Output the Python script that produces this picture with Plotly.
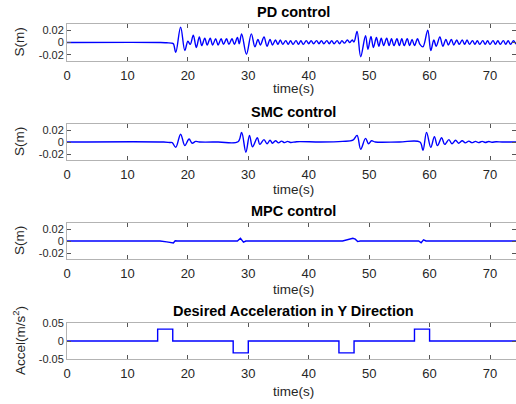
import plotly.graph_objects as go

# ---------------- data ----------------
# PD control: extremes of S(m) over time(s)
pd_t = [0, 15.5, 16.5, 17.3, 17.6, 18.0, 18.8, 19.5, 20.0, 20.4, 20.9, 21.4, 21.9, 22.3, 22.8, 23.2,
        23.7, 24.1, 24.6, 25.0, 25.5, 25.9, 26.4, 26.8, 27.3, 27.7, 28.2, 28.5, 28.9, 29.7, 30.5,
        31.1, 31.6, 32.0, 32.6, 33.1, 33.6, 34.0, 34.5, 34.9, 35.3, 35.7, 36.2, 36.6, 37.0, 37.4,
        37.9, 38.3, 38.7, 39.1, 39.6, 40.0, 40.4, 40.8, 41.3, 41.7, 42.1, 42.5, 43.0, 43.4, 43.8,
        44.2, 44.7, 45.1, 45.5, 45.9, 46.4, 46.8, 47.2, 47.5, 48.0, 48.6, 49.4, 49.8, 50.3, 50.7,
        51.2, 51.6, 52.0, 52.4, 52.9, 53.3, 53.7, 54.1, 54.6, 55.0, 55.4, 55.8, 56.3, 56.7, 57.1,
        57.5, 58.0, 58.4, 58.9, 59.7, 60.2, 60.7, 61.1, 61.7, 62.2, 62.7, 63.1, 63.6, 64.0, 64.5,
        64.9, 65.4, 65.8, 66.2, 66.6, 67.1, 67.5, 67.9, 68.3, 68.8, 69.2, 69.6, 70.0, 70.5, 70.9,
        71.3, 71.7, 72.2, 72.6, 73.0, 73.4, 73.9, 74.3, 75.0]
pd_s = [0, 0, -0.0005, -0.001, -0.002, -0.016, 0.025, -0.013, 0.002, -0.003, 0.012, -0.008, 0.009, -0.005, 0.007, -0.004,
        0.007, -0.004, 0.006, -0.004, 0.006, -0.003, 0.006, -0.003, 0.006, -0.003, 0.008, -0.002, 0.014, -0.019, 0.014,
        -0.007, 0.005, -0.004, 0.009, -0.006, 0.005, -0.004, 0.004, -0.003, 0.004, -0.003, 0.003, -0.003, 0.003, -0.003,
        0.003, -0.003, 0.003, -0.003, 0.003, -0.002, 0.003, -0.002, 0.003, -0.002, 0.003, -0.002, 0.003, -0.002, 0.003,
        -0.002, 0.003, -0.002, 0.003, -0.001, 0.004, 0.000, 0.004, 0.001, 0.018, -0.023, 0.011, -0.011, 0.010, -0.008,
        0.008, -0.006, 0.007, -0.005, 0.007, -0.005, 0.006, -0.005, 0.006, -0.005, 0.006, -0.005, 0.006, -0.005, 0.005,
        -0.005, 0.006, -0.003, -0.007, 0.020, -0.013, 0.004, -0.006, 0.009, -0.006, 0.005, -0.004, 0.005, -0.004, 0.004,
        -0.003, 0.004, -0.003, 0.004, -0.003, 0.003, -0.003, 0.003, -0.003, 0.003, -0.003, 0.003, -0.003, 0.003, -0.003,
        0.003, -0.003, 0.003, -0.003, 0.003, -0.003, 0.003, -0.002, 0.0]

# SMC control
smc_t = [0, 16.0, 17.0, 17.4, 18.0, 18.8, 19.5, 20.2, 20.7, 21.3, 21.9, 25.0, 28.3, 28.9, 29.6, 30.2, 30.7,
         31.5, 31.9, 32.6, 33.1, 33.6, 34.0, 34.5, 35.0, 35.5, 36.0, 36.5, 37.0, 38.0, 42.0, 45.6, 47.3,
         48.0, 48.6, 49.4, 49.9, 50.4, 51.0, 55.0, 58.4, 58.9, 59.5, 60.2, 60.8, 61.3, 62.0, 62.5, 63.2,
         63.7, 64.3, 64.8, 65.4, 65.9, 66.5, 67.0, 67.6, 68.1, 68.7, 69.2, 69.8, 70.3, 71.0, 72.0, 75.0]
smc_s = [0, 0, -0.0008, -0.001, -0.0088, 0.013, -0.006, 0.005, -0.002, 0.001, 0, 0, 0.0005, 0.016, -0.017, 0.011, -0.008,
         0.007, -0.004, 0.004, -0.003, 0.003, -0.002, 0.002, -0.0015, 0.0015, -0.001, 0.001, -0.0008, 0.0005, 0, 0.001, 0.003,
         0.011, -0.012, 0.006, -0.003, 0.002, 0, 0, 0, -0.014, 0.016, -0.009, 0.009, -0.006, 0.007, -0.004, 0.004,
         -0.003, 0.003, -0.002, 0.002, -0.0015, 0.0015, -0.001, 0.001, -0.001, 0.001, -0.0008, 0.0008, -0.0005, 0.0005, 0, 0]

# MPC control
mpc_t = [0, 15.4, 16.5, 17.6, 17.9, 18.3, 28.2, 28.7, 29.2, 29.6, 45.6, 47.3, 47.7, 48.1, 48.5, 58.2, 58.6, 59.0, 59.4, 75.0]
mpc_s = [0, 0, -0.0015, -0.0033, 0.0005, 0, 0, 0.0045, -0.002, 0, 0, 0.0045, 0.003, -0.001, 0, 0, -0.003, 0.002, 0, 0]

# Desired acceleration in Y direction (step signal)
acc_t = [0, 15.0, 17.5, 27.5, 30.0, 45.0, 47.5, 57.5, 60.0, 75.0]
acc_a = [0, 0.033, 0, -0.033, 0, -0.033, 0, 0.033, 0, 0]

titles = ["PD control", "SMC control", "MPC control", "Desired Acceleration in Y Direction"]
ylabels = ["S(m)", "S(m)", "S(m)", "Accel(m/s<sup>2</sup>)"]
xlabel = "time(s)"
x_ticks = [0, 10, 20, 30, 40, 50, 60, 70]
s_ticks = [-0.02, 0, 0.02]
s_ticktext = ["-0.02", "0", "0.02"]
a_ticks = [-0.05, 0, 0.05]
a_ticktext = ["-0.05", "0", "0.05"]

# ---------------- layout ----------------
W, H = 516, 404
boxes = [(24, 61), (124, 160), (223, 259), (323, 359)]
xlab_y = [89, 189, 289, 391]
title_y = [12, 112, 211, 311]
left = 67
FONT = "Liberation Sans, Arial"

fig = go.Figure()
series = [(pd_t, pd_s, "spline"), (smc_t, smc_s, "spline"), (mpc_t, mpc_s, "linear"), (acc_t, acc_a, "hv")]
for i, (tx, sy, shape) in enumerate(series):
    n = "" if i == 0 else str(i + 1)
    line = dict(color="#0000ff", width=1.4, shape=shape)
    if shape == "spline":
        line["smoothing"] = 1.0
    fig.add_trace(go.Scatter(x=tx, y=sy, mode="lines", line=line, xaxis="x" + n, yaxis="y" + n,
                             showlegend=False, hoverinfo="skip"))

axis_common = dict(showgrid=False, zeroline=False, showline=True, linecolor="#b3b3b3", linewidth=1,
                   mirror="ticks", ticks="inside", ticklen=4, tickcolor="#555555", automargin=False)
lay = dict(width=W, height=H, margin=dict(l=left, r=0, t=0, b=0, pad=0, autoexpand=False),
           plot_bgcolor="white", paper_bgcolor="white", showlegend=False, template="none")
annotations = []
xc = (293.5 - left) / (W - left)
for i, (top, bot) in enumerate(boxes):
    n = "" if i == 0 else str(i + 1)
    dom = [1 - bot / H, 1 - top / H]
    xa = dict(axis_common, domain=[0, 1], range=[0, 74.3], tickvals=x_ticks,
              anchor="y" + n, ticklabelstandoff=2,
              tickfont=dict(family=FONT, size=13, color="#262626"))
    yfont = dict(family=FONT, size=11, color="#262626")
    if i == 3:
        ya = dict(axis_common, domain=dom, range=[-0.05, 0.05], tickvals=a_ticks, ticktext=a_ticktext,
                  anchor="x" + n, tickfont=yfont)
    else:
        ya = dict(axis_common, domain=dom, range=[-0.03, 0.03], tickvals=s_ticks, ticktext=s_ticktext,
                  anchor="x" + n, tickfont=yfont)
    lay["xaxis" + n] = xa
    lay["yaxis" + n] = ya
    annotations.append(dict(text="<b>" + titles[i] + "</b>", xref="paper", yref="paper",
                            x=xc, y=1 - title_y[i] / H, xanchor="center",
                            yanchor="middle", showarrow=False,
                            font=dict(family=FONT, size=14.5, color="#000000")))
    annotations.append(dict(text=xlabel, xref="paper", yref="paper",
                            x=xc, y=1 - xlab_y[i] / H, xanchor="center",
                            yanchor="middle", showarrow=False,
                            font=dict(family=FONT, size=13.5, color="#262626")))
    annotations.append(dict(text=ylabels[i], xref="paper", yref="paper",
                            x=(19 - left) / (W - left), y=1 - (top + bot) / 2 / H, xanchor="center",
                            yanchor="middle", textangle=-90, showarrow=False,
                            font=dict(family=FONT, size=13.5, color="#262626")))
lay["annotations"] = annotations
fig.update_layout(**lay)
fig.write_html("out.html")
